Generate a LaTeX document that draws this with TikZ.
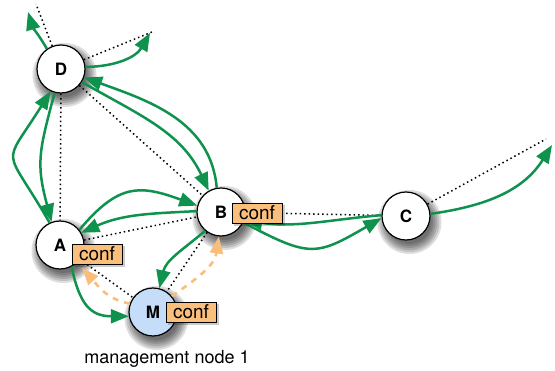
\documentclass[tikz,border=0pt]{standalone}
\usepackage{fontspec}
\setmainfont{TeX Gyre Heros}
\usetikzlibrary{arrows.meta}
\definecolor{grn}{RGB}{14,146,78}
\definecolor{org}{RGB}{250,190,122}
\definecolor{confc}{RGB}{250,190,125}
\definecolor{mblue}{RGB}{198,221,250}
\pgfdeclarelayer{bg}
\pgfdeclarelayer{fg}
\pgfsetlayers{bg,main,fg}
\begin{document}
\begin{tikzpicture}[x=1pt,y=1pt,
 peer/.style={circle, draw=black, line width=1.2pt, fill=white, minimum size=48pt, inner sep=0pt,
   font=\fontsize{17}{17}\selectfont\bfseries},
 confbox/.style={draw=black, line width=0.9pt, fill=confc, minimum width=50pt, minimum height=20pt,
   inner sep=0pt, font=\fontsize{19}{19}\selectfont},
 shadowring/.style={black, opacity=0.13},
 link/.style={black, line width=1.5pt, dash pattern=on 1.5pt off 3pt},
 flow/.style={grn, line width=2.5pt, -{Triangle[length=18pt,width=14pt]}},
 mgmt/.style={org, line width=2.6pt, dash pattern=on 6pt off 6pt, -{Triangle[length=17pt,width=13pt]}},
 caption/.style={font=\fontsize{18}{18}\selectfont, anchor=base, inner sep=0pt}
]
\useasboundingbox (0,0) rectangle (555,-371);

\node[peer] (D) at (61,-69) {D};
\node[peer] (A) at (60,-245) {A};
\node[peer] (B) at (221,-212) {B};
\node[peer] (C) at (406,-216) {C};
\node[peer, fill=mblue] (M) at (153,-312) {M};

\coordinate (dULd) at (36,-4);
\coordinate (dULa) at (28,-12);
\coordinate (dURd) at (152,-32);
\coordinate (dURa) at (150,-33);
\coordinate (cURd) at (546,-139);
\coordinate (cURa) at (552,-145);
\coordinate (mA) at (82,-268);

\begin{pgfonlayer}{bg}
\draw[link] (D) -- (dULd);
\draw[link] (D) -- (dURd);
\draw[link] (D) -- (A);
\draw[link] (D) -- (B);
\draw[link] (A) -- (B);
\draw[link] (A) -- (M);
\draw[link] (B) -- (M);
\draw[link] (B) -- (C);
\draw[link] (C) -- (cURd);
\foreach \n in {D,A,B,C,M}
  \foreach \r in {22,24,...,32}
    \fill[shadowring] ([shift={(3.5,-6)}]\n.center) circle (\r pt);
\end{pgfonlayer}

\draw[flow] (D.125) to[out=120,in=-73] (dULa);
\draw[flow] (D.5) to[out=0,in=240] (dURa);
\draw[flow] (B.100) to[out=95,in=-20] (D.-20);
\draw[flow] (D.-32) to[out=-30,in=115] (B.120);
\draw[flow] (A.115) to[out=120,in=238,looseness=1.8] (D.245);
\draw[flow] (D.255) to[out=255,in=105,looseness=1.2] (A.110);
\draw[flow] (A.38) to[out=50,in=160,looseness=1.3] (B.165);
\draw[flow] (B.178) to[out=183,in=24] (A.30);
\draw[flow] (B.230) to[out=220,in=77] (M.75);
\draw[flow] (A.-62) to[out=-78,in=180,looseness=1.3] (M.190);
\draw[flow] (B.-25) to[out=-28,in=210,looseness=1.4] (C.185);
\draw[flow] (C.178) to[out=185,in=-8] (B.-20);
\draw[flow] (C.5) to[out=8,in=238] (cURa);

\draw[mgmt] (M.160) to[out=170,in=-48] (mA);
\draw[mgmt] (M.40) to[out=35,in=-98] (B.-95);

\begin{pgfonlayer}{fg}
\foreach \p/\q in {97/254,257/213,191/312}
  \fill[black,opacity=0.2] (\p-23,-\q-13) rectangle (\p+28,-\q+8);
\node[confbox] (confA) at (97,-254) {conf};
\node[confbox] (confB) at (257,-213) {conf};
\node[confbox] (confM) at (191,-312) {conf};
\end{pgfonlayer}

\node[caption] (lbl) at (167,-364) {management node 1};
\end{tikzpicture}
\end{document}
